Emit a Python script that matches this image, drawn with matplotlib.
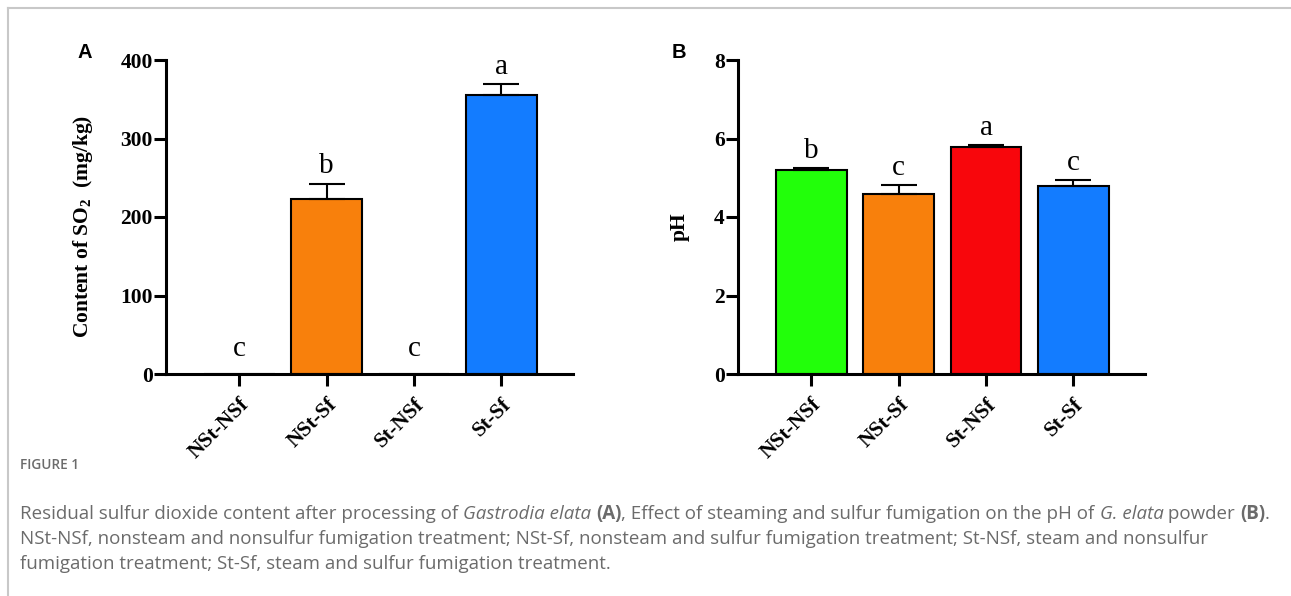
import matplotlib
matplotlib.use("Agg")
import matplotlib.pyplot as plt
import matplotlib.transforms as mtransforms
import numpy as np

# Datos
grupos = ["NSt-NSf", "NSt-Sf", "St-NSf", "St-Sf"]
so2 = [0, 222.5, 0, 355]
so2_err = [0, 20, 0, 14]
so2_letras = ["c", "b", "c", "a"]
ph = [5.19, 4.59, 5.78, 4.80]
ph_err = [0.06, 0.22, 0.05, 0.15]
ph_letras = ["b", "c", "a", "c"]
colores = ["#22ff0a", "#f8800c", "#f8060c", "#137cff"]

plt.rcParams["mathtext.fontset"] = "custom"
plt.rcParams["mathtext.rm"] = "Liberation Serif:bold"
plt.rcParams["mathtext.it"] = "Liberation Serif:bold"
plt.rcParams["mathtext.bf"] = "Liberation Serif:bold"

SERIF = "Liberation Serif"
W, H = 1291, 596


def panel(ax, valores, errores, letras, ylim, yticks, ylabel, label_x):
    x = np.arange(len(grupos))
    ax.bar(x, valores, width=0.81, color=colores, edgecolor="black",
           linewidth=1.5, zorder=2)
    for xi, v, e, l in zip(x, valores, errores, letras):
        if v > 0:
            ax.errorbar(xi, v, yerr=[[0], [e]], fmt="none", ecolor="black",
                        elinewidth=1.5, capsize=13, capthick=1.5, zorder=3)
        off = 3 if v > 0 else 8.5
        ax.annotate(l, (xi, v + e), xytext=(0, off), textcoords="offset points",
                    ha="center", va="bottom", fontsize=21, family=SERIF)
    ax.set_xlim(-0.84, 3.82)
    ax.set_ylim(*ylim)
    ax.set_yticks(yticks)
    ax.set_xticks(x)
    ax.set_xticklabels(grupos, rotation=45, ha="right", rotation_mode="anchor")
    for s in ["top", "right"]:
        ax.spines[s].set_visible(False)
    for s in ["left", "bottom"]:
        ax.spines[s].set_linewidth(2.2)
    ax.tick_params(width=2.2, length=8.5, labelsize=15.5, pad=1)
    ax.tick_params(axis="x", pad=6)
    for lab in ax.get_xticklabels() + ax.get_yticklabels():
        lab.set_fontfamily(SERIF)
        lab.set_fontweight("bold")
    ax.set_ylabel(ylabel, fontsize=15.5, family=SERIF, fontweight="bold")
    ax.yaxis.set_label_coords(label_x, 0.47)


fig = plt.figure(figsize=(W / 100, H / 100), dpi=100)
ax1 = fig.add_axes([166 / W, 1 - 374 / H, 407 / W, 314 / H])
ax2 = fig.add_axes([738 / W, 1 - 374 / H, 407 / W, 314 / H])

panel(ax1, so2, so2_err, so2_letras, (0, 400), [0, 100, 200, 300, 400],
      "Content of SO$_2$  (mg/kg)", -0.175)
panel(ax2, ph, ph_err, ph_letras, (0, 8), [0, 2, 4, 6, 8], "pH", -0.118)

fig.text(77 / W, 1 - 58 / H, "A", fontsize=14.5, fontweight="bold",
         family="Liberation Sans")
fig.text(672 / W, 1 - 58 / H, "B", fontsize=14.5, fontweight="bold",
         family="Liberation Sans")

# marco gris
fig.add_artist(plt.Line2D([7.5 / W, 7.5 / W], [0, 1 - 7.5 / H],
                          color="#c8c8c8", lw=1.5))
fig.add_artist(plt.Line2D([7.5 / W, 1], [1 - 7.5 / H, 1 - 7.5 / H],
                          color="#c8c8c8", lw=1.5))

# pie de figura
CAP = "Open Sans"
fig.text(20 / W, 1 - 469 / H, "FIGURE 1", fontsize=9.8, color="#6b6b6b",
         family=CAP, weight="semibold")

renglones = [
    [("Residual sulfur dioxide content after processing of ", "normal"),
     ("Gastrodia elata", "italic"), (" ", "normal"), ("(A)", "bold"),
     (", Effect of steaming and sulfur fumigation on the pH of ", "normal"),
     ("G. elata", "italic"), (" powder ", "normal"), ("(B)", "bold"),
     (".", "normal")],
    [("NSt-NSf, nonsteam and nonsulfur fumigation treatment; NSt-Sf, nonsteam "
      "and sulfur fumigation treatment; St-NSf, steam and nonsulfur", "normal")],
    [("fumigation treatment; St-Sf, steam and sulfur fumigation treatment.",
      "normal")],
]
renderer = fig.canvas.get_renderer()
ident = mtransforms.IdentityTransform()
for i, runs in enumerate(renglones):
    x = 20
    y = H - (519 + 25 * i)
    for txt, estilo in runs:
        kw = dict(fontsize=13.5, color="#6b6b6b", family=CAP)
        if estilo == "italic":
            kw["style"] = "italic"
        if estilo == "bold":
            kw["weight"] = "bold"
        t = fig.text(x, y, txt, transform=ident, **kw)
        x += t.get_window_extent(renderer).width

fig.savefig("out.png", dpi=100)
